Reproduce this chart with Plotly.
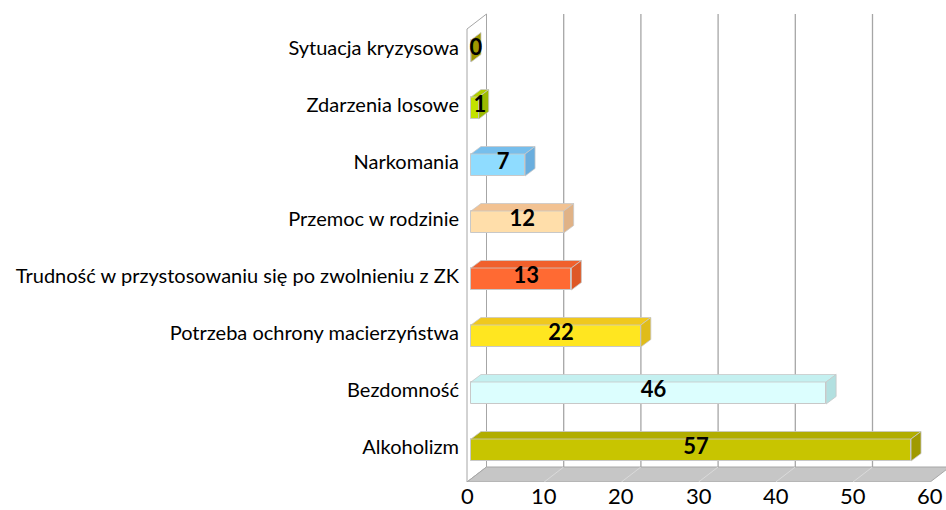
import plotly.graph_objects as go

# Categories listed bottom -> top, with their counts
categories = [
    "Alkoholizm",
    "Bezdomność",
    "Potrzeba ochrony macierzyństwa",
    "Trudność w przystosowaniu się po zwolnieniu z ZK",
    "Przemoc w rodzinie",
    "Narkomania",
    "Zdarzenia losowe",
    "Sytuacja kryzysowa",
]
values = [57, 46, 22, 13, 12, 7, 1, 0]

front_colors = ["#C8C500", "#DCFEFE", "#FFE620", "#FF6A33", "#FFDEAA", "#8FDCFF", "#C2E200", "#B2AC00"]
top_colors = ["#B1AD00", "#C4F0F0", "#F0C81E", "#F0602C", "#F2C292", "#76BEEC", "#B0CE00", "#A8A200"]
side_colors = ["#A09A00", "#B2E0E0", "#E0BC1A", "#DE5826", "#E0B286", "#6AAEDE", "#9CBA00", "#A09800"]

x_ticks = [0, 10, 20, 30, 40, 50, 60]

# ---- geometry (axis units) ----
PX_X = 7.72          # px per value unit
PX_Y = 57.0          # px per category
WALL_DX = 19.5 / PX_X  # depth of the wall/floor box
WALL_DY = 15.0 / PX_Y
BAR_X0 = 4.0 / PX_X    # bars sit in the middle of the depth
BAR_H = 22.0 / PX_Y
BAR_DX = 10.0 / PX_X
BAR_DY = 7.5 / PX_Y
FLOOR_Y = -32.0 / PX_Y   # front edge of the floor (bottom of plot area)
WALL_TOP = 421.0 / PX_Y  # front top edge of the wall

X_MIN = -5.0 / PX_X
X_MAX = X_MIN + 484.0 / PX_X
Y_MIN = FLOOR_Y
Y_MAX = 450.0 / PX_Y

GRID = "#A6A6A6"
EDGE = "#C8C8C8"
fig = go.Figure()


def path(xs, ys):
    pts = [f"{x:.4f},{y:.4f}" for x, y in zip(xs, ys)]
    return "M" + " L".join(pts) + " Z"


shapes = []
# left wall
shapes.append(dict(type="path", layer="below",
                   path=path([0, WALL_DX, WALL_DX, 0],
                             [FLOOR_Y, FLOOR_Y + WALL_DY, WALL_TOP + WALL_DY, WALL_TOP]),
                   fillcolor="#FFFFFF", line=dict(color=GRID, width=1)))
# floor
xmax_tick = x_ticks[-1]
shapes.append(dict(type="path", layer="below",
                   path=path([0, xmax_tick, xmax_tick + WALL_DX, WALL_DX],
                             [FLOOR_Y, FLOOR_Y, FLOOR_Y + WALL_DY, FLOOR_Y + WALL_DY]),
                   fillcolor="#C6C6C6", line=dict(color=GRID, width=1)))
# floor diagonals and back-wall grid lines
for t in x_ticks[1:-1]:
    shapes.append(dict(type="line", layer="below", x0=t, y0=FLOOR_Y,
                       x1=t + WALL_DX, y1=FLOOR_Y + WALL_DY,
                       line=dict(color="#DADADA", width=1)))
for t in x_ticks[1:]:
    shapes.append(dict(type="line", layer="below", x0=t + WALL_DX, y0=FLOOR_Y + WALL_DY,
                       x1=t + WALL_DX, y1=WALL_TOP + WALL_DY,
                       line=dict(color=GRID, width=1.3)))

# front faces of the bars
fig.add_trace(go.Bar(
    y=list(range(len(categories))), x=values, base=BAR_X0, orientation="h",
    width=BAR_H, marker=dict(color=front_colors, line=dict(color=EDGE, width=1)),
    hoverinfo="skip", showlegend=False))


def poly(xs, ys, fill):
    fig.add_trace(go.Scatter(
        x=xs + [xs[0]], y=ys + [ys[0]], mode="lines", fill="toself",
        fillcolor=fill, line=dict(color=EDGE, width=0.8),
        hoverinfo="skip", showlegend=False))


# top and side faces
for i, v in enumerate(values):
    x0, x1 = BAR_X0, BAR_X0 + v
    yb, yt = i - BAR_H / 2, i + BAR_H / 2
    if v > 0:
        poly([x0, x1, x1 + BAR_DX, x0 + BAR_DX],
             [yt, yt, yt + BAR_DY, yt + BAR_DY], top_colors[i])
    poly([x1, x1 + BAR_DX, x1 + BAR_DX, x1],
         [yb, yb + BAR_DY, yt + BAR_DY, yt], side_colors[i])

# value labels, centred on each box
fig.add_trace(go.Scatter(
    x=[BAR_X0 + (v + BAR_DX) / 2 for v in values],
    y=[i + BAR_DY / 4 for i in range(len(values))],
    mode="text", text=[str(v) for v in values],
    textfont=dict(family="Lato", size=22, color="#000000", weight="bold"),
    hoverinfo="skip", showlegend=False))

# value-axis tick labels along the front edge of the floor
annotations = [
    dict(x=t, y=FLOOR_Y, xref="x", yref="y", text=str(t), showarrow=False,
         xanchor="center", yanchor="top", yshift=1, borderpad=0,
         font=dict(family="Lato", size=22, color="#000000"))
    for t in x_ticks
]

fig.update_layout(
    width=946, height=510,
    margin=dict(l=462, r=0, t=0, b=28),
    paper_bgcolor="#FFFFFF", plot_bgcolor="#FFFFFF",
    font=dict(family="Lato", color="#000000"),
    shapes=shapes,
    annotations=annotations,
    xaxis=dict(range=[X_MIN, X_MAX], showticklabels=False,
               showgrid=False, zeroline=False, showline=False, automargin=False),
    yaxis=dict(range=[Y_MIN, Y_MAX], tickvals=list(range(len(categories))),
               ticktext=categories, showgrid=False, zeroline=False, showline=False,
               automargin=False, tickfont=dict(size=20, color="#000000"),
               ticklabelshift=-3, ticklabelstandoff=2),
    bargap=0,
)

fig.write_html("out.html")
